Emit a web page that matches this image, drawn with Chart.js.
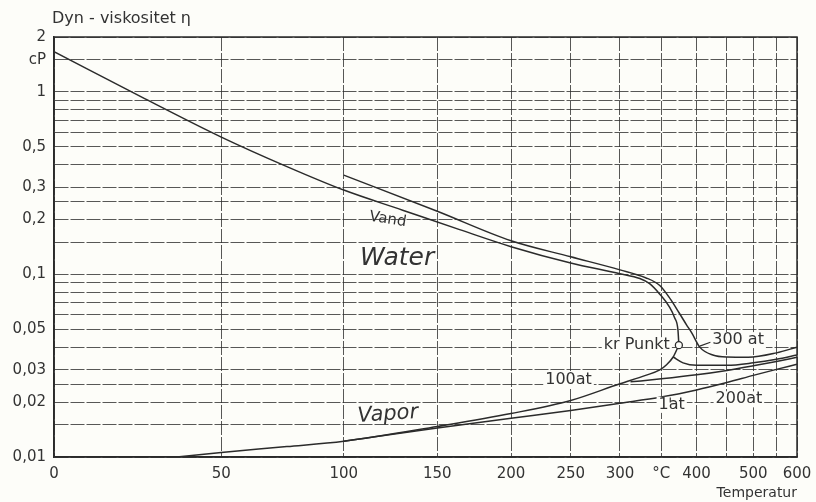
<!DOCTYPE html>
<html>
<head>
<meta charset="utf-8">
<script src="https://cdn.jsdelivr.net/npm/chart.js@4.4.1/dist/chart.umd.min.js"></script>
<style>
  html, body { margin: 0; padding: 0; background: #fdfdf9; }
  #wrap { width: 816px; height: 502px; }
</style>
</head>
<body>
<div id="wrap"><canvas id="chart" width="816" height="502"></canvas></div>
<script>
// Temperatur (°C) og dyn. viskositet (cP)

// Vand, mættet væske
const liquidT   = [0, 25, 50, 75, 100, 130, 164, 200, 250, 300, 323, 335, 348, 361, 368, 372.7, 374];
const liquidEta = [1.66, 0.92, 0.566, 0.39, 0.290, 0.225, 0.176, 0.142, 0.1156, 0.101, 0.095, 0.089, 0.078, 0.0663, 0.058, 0.0496, 0.041];

// 300 at isobar (væske -> overkritisk)
const p300T   = [100, 150, 200, 250, 300, 330, 348, 362, 374.5, 385, 393, 405, 426, 450, 490, 550, 600];
const p300Eta = [0.35, 0.222, 0.153, 0.125, 0.106, 0.096, 0.087, 0.0735, 0.0615, 0.053, 0.0477, 0.040, 0.0362, 0.0353, 0.0352, 0.0372, 0.040];

// Damp, mættet
const vaporT   = [35, 50, 75, 100, 150, 200, 250, 300, 330, 348, 357, 366, 374];
const vaporEta = [0.0100, 0.0106, 0.0114, 0.0122, 0.0147, 0.0173, 0.0204, 0.0252, 0.0280, 0.0300, 0.0320, 0.0353, 0.041];

// Overhedet damp, isobarer
const p1T     = [100, 150, 200, 250, 300, 350, 400, 450, 500, 550, 600];
const p1Eta   = [0.0122, 0.0144, 0.0163, 0.0180, 0.0197, 0.0213, 0.0233, 0.0256, 0.0280, 0.0302, 0.0322];
const p100T   = [312, 350, 400, 450, 500, 550, 600];
const p100Eta = [0.0258, 0.0268, 0.0282, 0.0298, 0.0316, 0.0334, 0.0352];
const p200T   = [366, 380, 400, 450, 500, 550, 600];
const p200Eta = [0.0353, 0.0328, 0.0318, 0.0318, 0.0328, 0.0343, 0.0362];

// Kritisk punkt
const critT = 374;
const critEta = 0.041;

// Akser
const tempGrid   = [0, 50, 100, 150, 200, 250, 300, 350, 400, 450, 500, 550, 600];
const tempLabels = { 0: '0', 50: '50', 100: '100', 150: '150', 200: '200', 250: '250', 300: '300', 350: '°C', 400: '400', 500: '500', 600: '600' };
const etaGrid    = [0.01, 0.015, 0.02, 0.025, 0.03, 0.04, 0.05, 0.06, 0.07, 0.08, 0.09, 0.1, 0.15, 0.2, 0.25, 0.3, 0.4, 0.5, 0.6, 0.7, 0.8, 0.9, 1, 1.5, 2];
const etaLabels  = { 0.01: '0,01', 0.02: '0,02', 0.03: '0,03', 0.05: '0,05', 0.1: '0,1', 0.2: '0,2', 0.3: '0,3', 0.5: '0,5', 1: '1', 1.5: 'cP', 2: '2' };

const INK = '#2b2b2b';
const GRID = 'rgba(45,45,45,0.8)';
const PAPER = '#fdfdf9';
const FONT = "'DejaVu Sans', sans-serif";

// ============================================
// Skala: 1/T (Kelvin), temperatur stigende mod højre
// ============================================
const LinearBase = Chart.LinearScale || Chart.registry.getScale('linear');
class InvKelvinScale extends LinearBase {
    determineDataLimits() {
        this.min = this.options.min;
        this.max = this.options.max;
    }
    buildTicks() {
        return tempGrid.map(v => ({ value: v }));
    }
    configure() {
        super.configure();
        this._uMin = 1 / (this.min + 273.15);
        this._uMax = 1 / (this.max + 273.15);
    }
    getPixelForValue(v) {
        if (v === null || v === undefined) return NaN;
        const u = 1 / (v + 273.15);
        return this.getPixelForDecimal((this._uMin - u) / (this._uMin - this._uMax));
    }
    getValueForPixel(p) {
        const d = this.getDecimalForPixel(p);
        return 1 / (this._uMin - d * (this._uMin - this._uMax)) - 273.15;
    }
}
InvKelvinScale.id = 'invkelvin';
InvKelvinScale.defaults = {};
Chart.register(InvKelvinScale);

function pts(xs, ys) { return xs.map((x, i) => ({ x: x, y: ys[i] })); }

function curve(xs, ys) {
    return {
        data: pts(xs, ys),
        borderColor: INK,
        borderWidth: 1.5,
        pointRadius: 0,
        fill: false,
        cubicInterpolationMode: 'monotone'
    };
}

// Tekster i diagrammet (ankret til T, eta)
const notes = [
    { text: 'Vand',     T: 122, eta: 0.200,  size: 15, rot: 0.16 },
    { text: 'Water',    T: 127, eta: 0.123,  size: 25, rot: 0, italic: true },
    { text: 'Vapor',    T: 122, eta: 0.0171, size: 21, rot: -0.07, italic: true },
    { text: 'kr Punkt', T: 374, eta: 0.041,  size: 16, dx: -9, align: 'right' },
    { text: '300 at',   T: 425, eta: 0.0437, size: 16, align: 'left' },
    { text: '100at',    T: 248, eta: 0.0264, size: 16 },
    { text: '1at',      T: 364, eta: 0.0193, size: 16 },
    { text: '200at',    T: 472, eta: 0.0207, size: 16 }
];

const decorPlugin = {
    id: 'decor',
    beforeDraw(chart) {
        const c = chart.ctx;
        c.save();
        c.fillStyle = PAPER;
        c.fillRect(0, 0, chart.width, chart.height);
        c.restore();
    },
    afterDraw(chart) {
        const c = chart.ctx;
        const xs = chart.scales.x, ys = chart.scales.y;
        const a = chart.chartArea;
        c.save();

        // ramme
        c.strokeStyle = INK;
        c.lineWidth = 1.5;
        c.strokeRect(a.left, a.top, a.right - a.left, a.bottom - a.top);

        c.fillStyle = '#333';
        c.textBaseline = 'middle';

        // titel og aksetekst
        c.font = '16px ' + FONT;
        c.textAlign = 'left';
        c.fillText('Dyn - viskositet \u03b7', 52, 19);
        c.font = '14px ' + FONT;
        c.textAlign = 'right';
        c.fillText('Temperatur', a.right, 493);

        // etiketter
        notes.forEach(n => {
            const x = xs.getPixelForValue(n.T) + (n.dx || 0);
            const y = ys.getPixelForValue(n.eta);
            c.save();
            c.translate(x, y);
            c.rotate(n.rot || 0);
            c.font = (n.italic ? 'italic 300 ' : '') + n.size + 'px ' + FONT;
            c.textAlign = n.align || 'center';
            const w = c.measureText(n.text).width;
            // lys baggrund bag etiketter på gitterlinjer
            if (!n.italic && n.text !== 'Vand') {
                c.fillStyle = PAPER;
                const x0 = n.align === 'right' ? -w : n.align === 'left' ? 0 : -w / 2;
                c.fillRect(x0 - 2, -8, w + 4, 16);
            }
            c.fillStyle = '#333';
            c.fillText(n.text, 0, 0);
            c.restore();
        });

        // kritisk punkt: ring
        const cx = xs.getPixelForValue(critT), cy = ys.getPixelForValue(critEta);
        c.strokeStyle = INK;
        c.lineWidth = 1.3;
        c.beginPath();
        c.arc(cx, cy, 3.5, 0, Math.PI * 2);
        c.fillStyle = PAPER;
        c.fill();
        c.stroke();

        // henvisningsstreger
        c.lineWidth = 1.1;
        const lead = (t1, e1, t2, e2) => {
            c.beginPath();
            c.moveTo(xs.getPixelForValue(t1), ys.getPixelForValue(e1));
            c.lineTo(xs.getPixelForValue(t2), ys.getPixelForValue(e2));
            c.stroke();
        };
        lead(405, 0.0405, 422, 0.0425);   // 300 at
        lead(362, 0.0199, 362, 0.0212);   // 1 at
        c.restore();
    }
};

new Chart(document.getElementById('chart'), {
    type: 'line',
    data: {
        datasets: [
            curve(liquidT, liquidEta),
            curve(p300T, p300Eta),
            curve(vaporT, vaporEta),
            curve(p1T, p1Eta),
            curve(p100T, p100Eta),
            curve(p200T, p200Eta)
        ]
    },
    options: {
        responsive: false,
        animation: false,
        devicePixelRatio: 1,
        layout: { padding: { top: 37, right: 19, left: 0, bottom: 0 } },
        plugins: { legend: { display: false }, tooltip: { enabled: false } },
        scales: {
            x: {
                type: 'invkelvin',
                min: 0,
                max: 600,
                afterFit: s => { s.height = 45; s.paddingLeft = 0; s.paddingRight = 0; },
                border: { display: true, color: INK, width: 1.5, dash: [14, 2] },
                grid: { color: GRID, lineWidth: 1, drawTicks: false },
                ticks: {
                    autoSkip: false,
                    maxRotation: 0,
                    padding: 8,
                    color: '#333',
                    font: { family: FONT, size: 15 },
                    callback: v => tempLabels[v] || ''
                }
            },
            y: {
                type: 'logarithmic',
                min: 0.01,
                max: 2,
                afterFit: s => { s.width = 54; s.paddingTop = 0; s.paddingBottom = 0; },
                afterBuildTicks: s => { s.ticks = etaGrid.map(v => ({ value: v })); },
                border: { display: true, color: INK, width: 1.5, dash: [14, 2] },
                grid: { color: GRID, lineWidth: 1, drawTicks: false },
                ticks: {
                    autoSkip: false,
                    padding: 8,
                    color: '#333',
                    font: { family: FONT, size: 15 },
                    callback: v => etaLabels[v] || ''
                }
            }
        }
    },
    plugins: [decorPlugin]
});
</script>
</body>
</html>
